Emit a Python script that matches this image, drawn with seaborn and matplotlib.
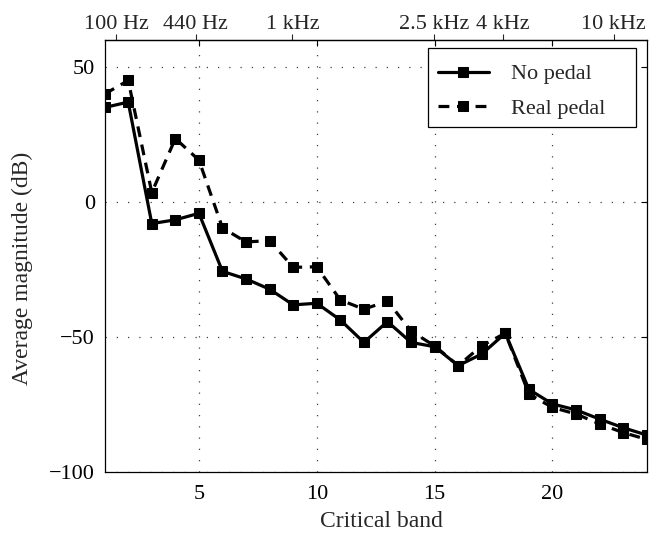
import matplotlib
matplotlib.use("Agg")
import matplotlib.pyplot as plt
from matplotlib.patches import Rectangle
import seaborn as sns
import pandas as pd

# Average magnitude per critical band
bands = list(range(1, 25))
no_pedal = [35, 37, -8, -6.6, -4.2, -25.7, -28.5, -32.3, -38.1, -37.5, -43.7, -52,
            -44.3, -52, -53.6, -60.6, -56.3, -48.6, -69.4, -74.8, -77, -80.4, -83.6, -86.3]
real_pedal = [40, 45, 3.5, 23.5, 15.5, -9.6, -14.8, -14.3, -24.2, -24, -36.3, -39.7,
              -36.7, -47.8, -53.3, -60.6, -53.2, -48.6, -71.1, -76.1, -78.5, -82.2, -85.4, -87.9]
series_names = ["No pedal", "Real pedal"]

# Frequency markers on the top axis (position in critical bands)
freq_pos = [1.48, 4.86, 8.97, 14.97, 17.9, 22.6]
freq_labels = ["100 Hz", "440 Hz", "1 kHz", "2.5 kHz", "4 kHz", "10 kHz"]

x_ticks = [5, 10, 15, 20]
y_ticks = [-100, -50, 0, 50]

sns.set_style("white")
plt.rcParams["font.family"] = ["Liberation Serif", "DejaVu Serif"]

df = pd.DataFrame({
    "band": bands * 2,
    "mag": no_pedal + real_pedal,
    "series": [series_names[0]] * len(bands) + [series_names[1]] * len(bands),
})

fig = plt.figure(figsize=(6.5, 5.33), dpi=100)
ax = fig.add_axes([0.161, 0.1144, 0.834, 0.8106])

sns.lineplot(data=df[df.series == series_names[0]], x="band", y="mag", ax=ax,
             color="black", linewidth=2.3, marker="s", markersize=6.8,
             markeredgecolor="black", label=series_names[0])
sns.lineplot(data=df[df.series == series_names[1]], x="band", y="mag", ax=ax,
             color="black", linewidth=2.3, linestyle=(0, (3.4, 2.4)), marker="s",
             markersize=6.8, markeredgecolor="black", label=series_names[1])

ax.set_xlim(1, 24)
ax.set_ylim(-100, 60)
ax.set_xticks(x_ticks)
ax.set_yticks(y_ticks)
ax.set_yticklabels(["\u2212100", "\u221250", "0", "50"])
ax.grid(True, linestyle=(0, (1, 8)), color="black", linewidth=0.9, alpha=0.75)
ax.tick_params(direction="in", length=4, width=0.8, top=True, right=True,
               labelsize=16, colors="black")
ax.tick_params(axis="x", pad=9)
ax.tick_params(axis="y", pad=7)
for s in ax.spines.values():
    s.set_color("black")
    s.set_linewidth(0.9)

ax.set_xlabel("Critical band", fontsize=17)
ax.set_ylabel("Average magnitude (dB)", fontsize=17)
ax.xaxis.set_label_coords(0.51, -0.09)
ax.yaxis.set_label_coords(-0.132, 0.472)

# Top axis with frequency landmarks
top = ax.secondary_xaxis("top")
top.set_xticks(freq_pos)
top.set_xticklabels(freq_labels)
top.tick_params(direction="out", length=4, width=0.8, labelsize=16, pad=0)
top.spines["top"].set_linewidth(0.9)

# Legend entries, with a plain rectangular box around them
leg = ax.legend(loc="upper left", fontsize=16, frameon=False,
                handlelength=2.3, borderpad=0, borderaxespad=0,
                labelspacing=0.62, handletextpad=1.0,
                bbox_to_anchor=(0.6147, 0.945), numpoints=1)
ax.add_patch(Rectangle((0.5962, 0.7986), 0.3835, 0.1829, transform=ax.transAxes,
                       facecolor="white", edgecolor="black", linewidth=0.9,
                       zorder=4.5))
leg.set_zorder(5)

fig.savefig("out.png", dpi=100, facecolor="white")
